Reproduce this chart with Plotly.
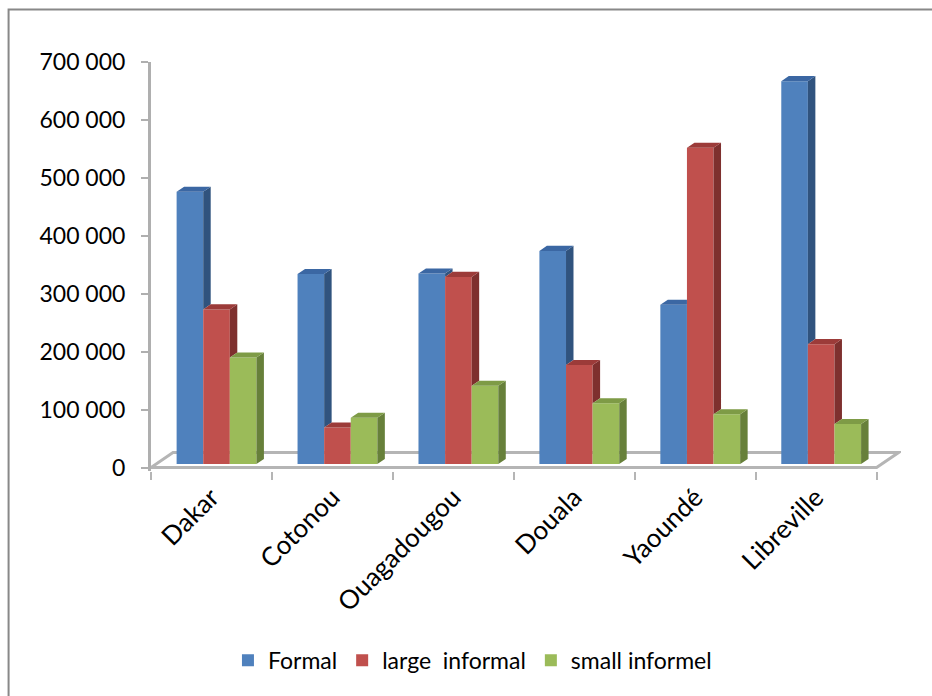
import plotly.graph_objects as go

# Housing stock by city and sector
cities = ["Dakar", "Cotonou", "Ouagadougou", "Douala", "Yaoundé", "Libreville"]
formal = [470000, 328000, 329000, 368000, 275000, 661000]
large_informal = [267000, 63000, 323000, 171000, 546000, 207000]
small_informel = [184000, 80000, 135000, 105000, 86000, 69000]
series_names = ["Formal", "large\u00a0 informal", "small informel"]
y_ticks = [0, 100000, 200000, 300000, 400000, 500000, 600000, 700000]

series = [formal, large_informal, small_informel]
front_colors = ["#4F81BD", "#C0504D", "#9BBB59"]
side_colors = ["#30537E", "#7E302E", "#67803A"]
top_colors = ["#3B67A3", "#9C3B39", "#7E9B46"]

# pseudo-3D projection: a unit of depth shifts right and up
KX = 22 / 121           # x units per unit of depth
KY = 15 / 406 * 700000  # y units per unit of depth
Z_FRONT, Z_BACK = 0.23, 0.57
W = 0.22                # bar width
DX = (Z_BACK - Z_FRONT) * KX
DY = (Z_BACK - Z_FRONT) * KY
BASE = Z_FRONT * KY
SHIFT = Z_FRONT * KX

X_MIN, X_MAX = -0.5, 5.5 + KX + 0.02
Y_MIN, Y_MAX = -6000, 700000

fig = go.Figure()

# front faces
for k, vals in enumerate(series):
    xs = [i + SHIFT + (k - 1) * W for i in range(len(cities))]
    fig.add_trace(go.Bar(x=xs, y=vals, base=BASE, width=W, name=series_names[k],
                         marker=dict(color=front_colors[k], line=dict(width=0)),
                         cliponaxis=False, hovertemplate="%{y:,}<extra></extra>"))

# side and top faces
for k, vals in enumerate(series):
    sx, sy, tx, ty = [], [], [], []
    for i in range(len(cities)):
        xc = i + SHIFT + (k - 1) * W
        xl, xr = xc - W / 2, xc + W / 2
        t = BASE + vals[i]
        nxt = BASE + series[k + 1][i] if k < len(series) - 1 else None
        c = BASE if nxt is None else max(BASE, nxt)
        if c < t:
            sx += [xr, xr + DX, xr + DX, xr, xr, None]
            sy += [c, c + DY, t + DY, t, c, None]
        if nxt is not None and nxt > t:
            tx += [xl, xr, xr, xl + DX, xl, None]
            ty += [t, t, t + DY, t + DY, t, None]
        else:
            tx += [xl, xr, xr + DX, xl + DX, xl, None]
            ty += [t, t, t + DY, t + DY, t, None]
    fig.add_trace(go.Scatter(x=sx, y=sy, mode="lines", fill="toself", fillcolor=side_colors[k],
                             line=dict(width=0, color=side_colors[k]), hoverinfo="skip",
                             showlegend=False, cliponaxis=False))
    fig.add_trace(go.Scatter(x=tx, y=ty, mode="lines", fill="toself", fillcolor=top_colors[k],
                             line=dict(width=0, color=top_colors[k]), hoverinfo="skip",
                             showlegend=False, cliponaxis=False))

# carrier for the boundary tick axis
fig.add_trace(go.Scatter(x=[0], y=[0], xaxis="x2", mode="markers", marker=dict(opacity=0),
                         hoverinfo="skip", showlegend=False))

PX_PER_X = 121
PX_PER_Y = 406 / 700000
L = 151
T = 62
PW = (X_MAX - X_MIN) * PX_PER_X
PH = (Y_MAX - Y_MIN) * PX_PER_Y
R = 932 - L - PW
B = 696 - T - PH

def px_x(p):
    return (p - L) / PW

def px_y(p):
    return (696 - B - p) / PH

floor_path = "M {a},0 L {b},0 L {c},{h} L {d},{h} Z".format(
    a=-0.5, b=5.5, c=5.5 + KX, d=-0.5 + KX, h=KY)

fig.update_layout(
    width=932, height=696,
    margin=dict(l=L, r=R, t=T, b=B, pad=0),
    paper_bgcolor="white", plot_bgcolor="white",
    barmode="overlay",
    separators=", ",
    font=dict(family="Lato, sans-serif", color="#000000"),
    xaxis=dict(range=[X_MIN, X_MAX], tickvals=list(range(len(cities))), ticktext=cities,
               tickangle=-45, ticks="", showgrid=False, zeroline=False, showline=False,
               tickfont=dict(size=26), ticklabelstandoff=5),
    xaxis2=dict(range=[X_MIN, X_MAX], overlaying="x", anchor="y", side="bottom",
                tickvals=[x - 0.5 for x in range(len(cities) + 1)], ticks="outside",
                ticklen=8, tickwidth=2, tickcolor="#B5B5B5", showticklabels=False,
                showgrid=False, zeroline=False, showline=False),
    yaxis=dict(range=[Y_MIN, Y_MAX], tickvals=y_ticks, tickformat=",d", showgrid=False,
               zeroline=False, showline=True, linecolor="#AFAFAF", linewidth=3,
               ticks="outside", ticklen=7, tickwidth=2, tickcolor="#AFAFAF",
               tickfont=dict(size=23), ticklabelstandoff=11),
    legend=dict(orientation="h", x=px_x(228), xanchor="left",
                y=px_y(661), yanchor="middle",
                font=dict(size=23), bgcolor="rgba(0,0,0,0)"),
    shapes=[
        dict(type="path", xref="x", yref="y", path=floor_path,
             line=dict(color="#B5B5B5", width=3), fillcolor="white", layer="below"),
        dict(type="rect", xref="paper", yref="paper",
             x0=px_x(8.5), x1=px_x(940), y0=px_y(705), y1=px_y(9.5),
             line=dict(color="#888888", width=2), fillcolor="rgba(0,0,0,0)", layer="below"),
    ],
)

fig.write_html("out.html")
